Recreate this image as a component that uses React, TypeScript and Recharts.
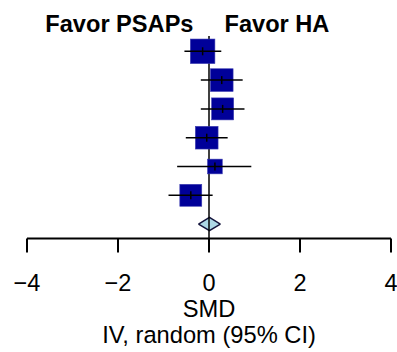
import { ComposedChart, XAxis, YAxis, Scatter, Area, ReferenceLine } from "recharts";

// study rows, top to bottom
const studyRows = [1, 2, 3, 4, 5, 6];
const smd = [-0.14, 0.28, 0.3, -0.05, 0.13, -0.4];
const ciLow = [-0.54, -0.18, -0.18, -0.51, -0.7, -0.89];
const ciHigh = [0.27, 0.74, 0.78, 0.41, 0.93, 0.08];
const weights = [21.4, 18.3, 17.2, 18.3, 7.7, 17.1];

// pooled estimate
const pooledRow = 7;
const pooledSmd = 0.01;
const pooledLow = -0.23;
const pooledHigh = 0.25;

const xTicks = [-4, -2, 0, 2, 4];

const FONT = "'Liberation Sans', Arial, sans-serif";
const DIAMOND_HALF = 0.23;

const studies = studyRows.map((row, i) => ({x: smd[i], row, w: weights[i]}));

// one two-point segment per study for the CI whisker
const ciSegments = studyRows.map((row, i) => [
    {x: ciLow[i], row},
    {x: ciHigh[i], row},
]);

const pooled = [
    {x: pooledLow, band: [pooledRow, pooledRow]},
    {x: pooledSmd, band: [pooledRow - DIAMOND_HALF, pooledRow + DIAMOND_HALF]},
    {x: pooledHigh, band: [pooledRow, pooledRow]},
];

const Square = (props: any) => {
    const {cx, cy, payload} = props;
    const s = 5.3 * Math.sqrt(payload.w);
    return <rect x={cx - s / 2} y={cy - s / 2} width={s} height={s} fill="#000099" stroke="#3a3ab0" strokeWidth={0.6}/>;
};

const EstTick = (props: any) => {
    const {cx, cy} = props;
    return <line x1={cx} x2={cx} y1={cy - 4} y2={cy + 4} stroke="#000" strokeWidth={1.5}/>;
};

const NoDot = () => <g/>;

const fmt = (v: number) => (v < 0 ? "\u2212" + Math.abs(v) : String(v));

export default function App() {
    return (
        <div style={{position: "absolute", left: 0, top: 0, background: "#fff"}}>
            <ComposedChart width={397} height={352} margin={{top: 22.5, right: 6, bottom: 73.5, left: 27}}>
                <XAxis dataKey="x" type="number" domain={[-4, 4]} ticks={xTicks} interval={0}
                       height={40} tickSize={14} tickMargin={22} tickFormatter={fmt}
                       axisLine={{stroke: "#000", strokeWidth: 2}}
                       tickLine={{stroke: "#000", strokeWidth: 2}}
                       tick={{fill: "#000", fontSize: 23.5, fontFamily: FONT}}/>
                <YAxis type="number" domain={[0, 7.5]} reversed hide/>
                <ReferenceLine segment={[{x: 0, y: 0.47}, {x: 0, y: 7.5}]} stroke="#000" strokeWidth={1.5}/>
                <Scatter data={studies} dataKey="row" shape={Square} isAnimationActive={false}/>
                {ciSegments.map((seg, i) => (
                    <Scatter key={i} data={seg} dataKey="row" shape={NoDot} line={{stroke: "#000", strokeWidth: 1.5}}
                             lineType="joint" isAnimationActive={false}/>
                ))}
                <Scatter data={studies} dataKey="row" shape={EstTick} isAnimationActive={false}/>
                <Area data={pooled} dataKey="band" type="linear" fill="#ADD8E6" fillOpacity={1}
                      stroke="#14143c" strokeWidth={1.5} dot={false} activeDot={false} isAnimationActive={false}/>
                <text x={193.5} y={31.5} textAnchor="end" fontSize={23.6} fontWeight="bold" fontFamily={FONT} fill="#000">Favor PSAPs</text>
                <text x={224.5} y={31.5} textAnchor="start" fontSize={23.6} fontWeight="bold" fontFamily={FONT} fill="#000">Favor HA</text>
                <text x={209} y={317} textAnchor="middle" fontSize={23.7} fontFamily={FONT} fill="#000">SMD</text>
                <text x={209} y={343} textAnchor="middle" fontSize={23.7} fontFamily={FONT} fill="#000">IV, random (95% CI)</text>
            </ComposedChart>
        </div>
    );
}
